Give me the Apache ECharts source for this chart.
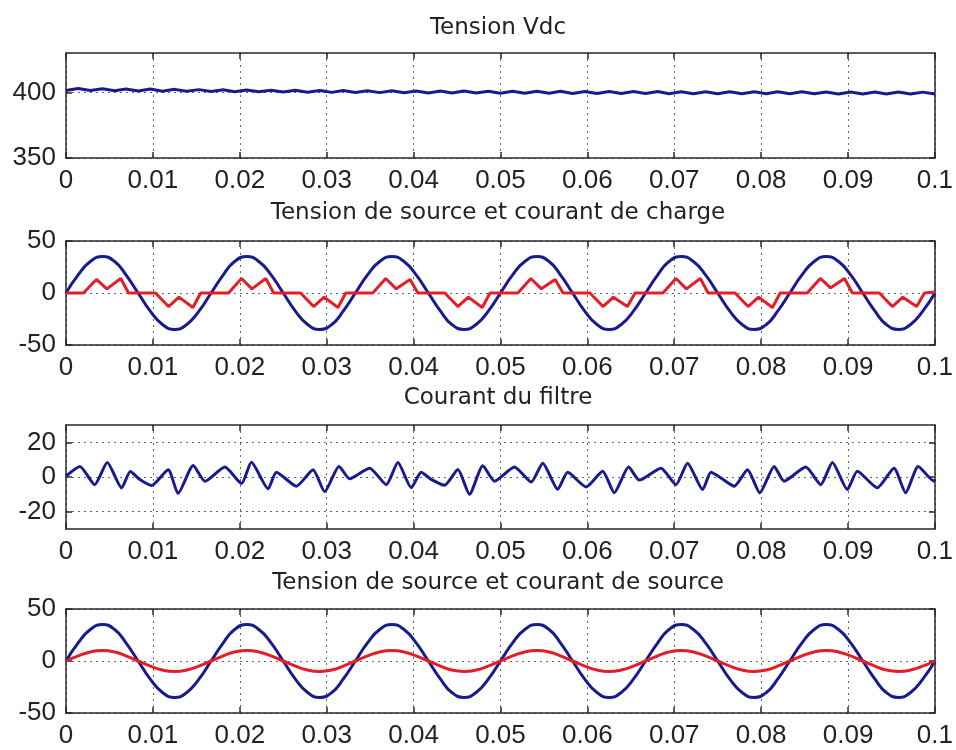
<!DOCTYPE html>
<html>
<head>
<meta charset="utf-8">
<title>Tension Vdc</title>
<script src="https://cdn.jsdelivr.net/npm/echarts@6/dist/echarts.min.js"></script>
<style>
html, body { margin: 0; padding: 0; background: #fff; }
#main { width: 956px; height: 750px; }
</style>
</head>
<body>
<div id="main"></div>
<script>
// temps (s), pas de T/12 (T = 1/60 s)
var tGrid = [0, 0.0014, 0.0028, 0.0042, 0.0056, 0.0069, 0.0083, 0.0097, 0.0111, 0.0125, 0.0139, 0.0153,
  0.0167, 0.0181, 0.0194, 0.0208, 0.0222, 0.0236, 0.025, 0.0264, 0.0278, 0.0292, 0.0306, 0.0319,
  0.0333, 0.0347, 0.0361, 0.0375, 0.0389, 0.0403, 0.0417, 0.0431, 0.0444, 0.0458, 0.0472, 0.0486,
  0.05, 0.0514, 0.0528, 0.0542, 0.0556, 0.0569, 0.0583, 0.0597, 0.0611, 0.0625, 0.0639, 0.0653,
  0.0667, 0.0681, 0.0694, 0.0708, 0.0722, 0.0736, 0.075, 0.0764, 0.0778, 0.0792, 0.0806, 0.0819,
  0.0833, 0.0847, 0.0861, 0.0875, 0.0889, 0.0903, 0.0917, 0.0931, 0.0944, 0.0958, 0.0972, 0.0986, 0.1];

// Tension Vdc (V)
var vdc = [401.5, 403, 401.4, 402.8, 401.3, 402.6, 401.1, 402.5, 400.9, 402.3, 400.8, 402.1,
  400.7, 402.0, 400.5, 401.8, 400.4, 401.7, 400.3, 401.6, 400.1, 401.5, 400.0, 401.4,
  399.9, 401.3, 399.8, 401.2, 399.7, 401.1, 399.6, 401.0, 399.5, 401.0, 399.5, 400.9,
  399.4, 400.9, 399.3, 400.8, 399.3, 400.8, 399.2, 400.7, 399.2, 400.7, 399.1, 400.6,
  399.1, 400.6, 399.0, 400.5, 399.0, 400.5, 399.0, 400.5, 398.9, 400.4, 398.9, 400.4,
  398.9, 400.4, 398.9, 400.3, 398.8, 400.3, 398.8, 400.3, 398.8, 400.3, 398.8, 400.2, 398.8];

// tension de source (V)
var vSource = [0, 17.5, 30.3, 35, 30.3, 17.5, 0, -17.5, -30.3, -35, -30.3, -17.5,
  0, 17.5, 30.3, 35, 30.3, 17.5, 0, -17.5, -30.3, -35, -30.3, -17.5,
  0, 17.5, 30.3, 35, 30.3, 17.5, 0, -17.5, -30.3, -35, -30.3, -17.5,
  0, 17.5, 30.3, 35, 30.3, 17.5, 0, -17.5, -30.3, -35, -30.3, -17.5,
  0, 17.5, 30.3, 35, 30.3, 17.5, 0, -17.5, -30.3, -35, -30.3, -17.5,
  0, 17.5, 30.3, 35, 30.3, 17.5, 0, -17.5, -30.3, -35, -30.3, -17.5, 0];

// courant de source (A)
var iSource = [0, 5, 8.7, 10, 8.7, 5, 0, -5, -8.7, -10, -8.7, -5,
  0, 5, 8.7, 10, 8.7, 5, 0, -5, -8.7, -10, -8.7, -5,
  0, 5, 8.7, 10, 8.7, 5, 0, -5, -8.7, -10, -8.7, -5,
  0, 5, 8.7, 10, 8.7, 5, 0, -5, -8.7, -10, -8.7, -5,
  0, 5, 8.7, 10, 8.7, 5, 0, -5, -8.7, -10, -8.7, -5,
  0, 5, 8.7, 10, 8.7, 5, 0, -5, -8.7, -10, -8.7, -5, 0];

// courant de charge (A)
var tLoad = [0, 0.0020, 0.0035, 0.0047, 0.0063, 0.0072, 0.0103, 0.0118, 0.0130, 0.0146, 0.0155,
  0.0187, 0.0202, 0.0214, 0.0230, 0.0239, 0.0270, 0.0285, 0.0297, 0.0313, 0.0322,
  0.0353, 0.0368, 0.0380, 0.0396, 0.0405, 0.0436, 0.0451, 0.0463, 0.0479, 0.0488,
  0.0520, 0.0535, 0.0547, 0.0563, 0.0572, 0.0603, 0.0618, 0.0630, 0.0646, 0.0655,
  0.0687, 0.0702, 0.0714, 0.0730, 0.0739, 0.0770, 0.0785, 0.0797, 0.0813, 0.0822,
  0.0853, 0.0868, 0.0880, 0.0896, 0.0905, 0.0936, 0.0951, 0.0963, 0.0979, 0.0988, 0.1];
var iLoad = [0, 0, 13, 4, 14, 0, 0, -13, -4, -14, 0,
  0, 14, 4, 14, 0, 0, -13, -4, -14, 0,
  0, 14, 4, 13, 0, 0, -13, -4, -14, 0,
  0, 14, 4, 13, 0, 0, -13, -4, -13, 0,
  0, 14, 4, 14, 0, 0, -13, -4, -14, 0,
  0, 14, 5, 14, 0, 0, -13, -4, -13, 0, 1];

// courant du filtre (A)
var tFilter = [0, 0.0016, 0.0033, 0.00475, 0.0064, 0.0074, 0.0085, 0.00985, 0.01176, 0.0129, 0.01464, 0.016,
  0.01828, 0.0202, 0.02134, 0.02326, 0.02421, 0.02651, 0.02843, 0.02977, 0.03142, 0.03264,
  0.03494, 0.03686, 0.0382, 0.03973, 0.04088, 0.04203, 0.04356, 0.0451, 0.04644, 0.04797, 0.04931,
  0.05161, 0.05353, 0.05487, 0.05659, 0.05774, 0.05985, 0.06176, 0.0631, 0.06475, 0.06598,
  0.06847, 0.0702, 0.07153, 0.07326, 0.07422, 0.07536, 0.0769, 0.07843, 0.07985, 0.0815, 0.08264,
  0.08513, 0.08686, 0.0882, 0.08992, 0.09107, 0.09337, 0.09529, 0.09663, 0.09808, 0.09989, 0.1];
var iFilter = [0.5, 6.1, -4.4, 8.3, -6.3, 3.2, -1.5, -4.9, 4.2, -9.5, 6.6, -2.5,
  5.7, -3.8, 8.5, -6.8, 2.8, -5.3, 4.2, -8.5, 6.1, -1,
  5.1, -4.4, 8.4, -6.2, 2.7, -1.4, -4.8, 4.3, -10, 6.5, -2.4,
  5.8, -2.9, 8.0, -7.1, 2.7, -5.7, 3.3, -9.1, 5.8, -1.8,
  5.1, -4.4, 8.0, -7.2, 2.7, -0.5, -5.3, 4.2, -9.1, 6.1, -2.4,
  5.7, -4.4, 8.4, -7.2, 3.3, -6.2, 5.1, -9.1, 6.1, -2.4, -1.5];

var xTicks = [0, 0.01, 0.02, 0.03, 0.04, 0.05, 0.06, 0.07, 0.08, 0.09, 0.1];
var yTicks = [[350, 400], [-50, 0, 50], [-20, 0, 20], [-50, 0, 50]];
var yMin = [350, -50, -30, -50];
var yMax = [430, 50, 30, 50];
var titles = ['Tension Vdc', 'Tension de source et courant de charge', 'Courant du filtre', 'Tension de source et courant de source'];

var chart = echarts.init(document.getElementById('main'));

var gridTops = [53, 241, 425, 609];
var gridH = [105, 104, 104, 104];
var titleTops = [12, 197, 382, 567];
var blue = '#1a1a8f';
var red = '#e41e26';
var axisCol = '#2a2a2a';
var labelFont = { color: '#222', fontSize: 26, fontFamily: 'Liberation Sans Narrow, Liberation Sans, Arial' };

function dotted() {
  return { show: true, lineStyle: { color: '#666', width: 1, type: [2, 4] } };
}

function pairs(t, v) {
  return t.map(function (x, i) { return [x, v[i]]; });
}

function frameLine() {
  return { show: true, onZero: false, lineStyle: { color: axisCol, width: 1.5 } };
}

var grid = [], xAxis = [], yAxis = [], title = [];
for (var i = 0; i < 4; i++) {
  grid.push({ left: 66, top: gridTops[i], width: 871, height: gridH[i] });
  title.push({
    text: titles[i], left: 493, top: titleTops[i], textAlign: 'center',
    textStyle: { fontSize: 23, fontWeight: 'normal', color: '#222', fontFamily: 'DejaVu Sans' }
  });
  xAxis.push({
    gridIndex: i, type: 'value', min: 0, max: 0.1, interval: 0.01, position: 'bottom',
    axisLine: frameLine(),
    axisTick: { inside: true, length: 6, customValues: xTicks, lineStyle: { color: axisCol, width: 1.5 } },
    axisLabel: Object.assign({ margin: 10, customValues: xTicks }, labelFont),
    splitLine: dotted()
  });
  xAxis.push({
    gridIndex: i, type: 'value', min: 0, max: 0.1, interval: 0.01, position: 'top',
    axisLine: frameLine(),
    axisTick: { inside: true, length: 6, customValues: xTicks, lineStyle: { color: axisCol, width: 1.5 } },
    axisLabel: { show: false }, splitLine: { show: false }
  });
  yAxis.push({
    gridIndex: i, type: 'value', min: yMin[i], max: yMax[i], interval: 10, position: 'left',
    axisLine: frameLine(),
    axisTick: { show: true, inside: true, length: 6, customValues: yTicks[i], lineStyle: { color: axisCol, width: 1.5 } },
    axisLabel: Object.assign({ margin: 10, customValues: yTicks[i] }, labelFont),
    splitLine: dotted()
  });
  yAxis.push({
    gridIndex: i, type: 'value', min: yMin[i], max: yMax[i], interval: 10, position: 'right',
    axisLine: frameLine(),
    axisTick: { show: true, inside: true, length: 6, customValues: yTicks[i], lineStyle: { color: axisCol, width: 1.5 } },
    axisLabel: { show: false }, splitLine: { show: false }
  });
}

function line(idx, data, color, smooth, z) {
  return {
    type: 'line', xAxisIndex: idx * 2, yAxisIndex: idx * 2, data: data,
    showSymbol: false, smooth: smooth, z: z, animation: false,
    lineStyle: { color: color, width: 3 }
  };
}

chart.setOption({
  backgroundColor: '#fff',
  animation: false,
  title: title,
  grid: grid,
  xAxis: xAxis,
  yAxis: yAxis,
  series: [
    line(0, pairs(tGrid, vdc), blue, false, 3),
    line(1, pairs(tGrid, vSource), blue, 0.5, 3),
    line(1, pairs(tLoad, iLoad), red, false, 4),
    line(2, pairs(tFilter, iFilter), blue, 0.2, 3),
    line(3, pairs(tGrid, vSource), blue, 0.5, 3),
    line(3, pairs(tGrid, iSource), red, 0.5, 4)
  ]
});
</script>
</body>
</html>
